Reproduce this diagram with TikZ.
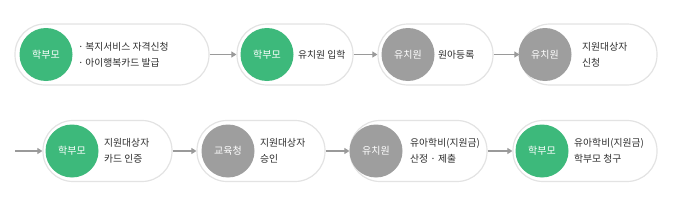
\documentclass[tikz,border=0pt]{standalone}
\usepackage{fontspec}
\setmainfont{Noto Sans CJK KR}
\usetikzlibrary{arrows.meta}
\definecolor{pgreen}{HTML}{3DB97B}
\definecolor{pgray}{HTML}{9E9E9E}
\definecolor{pline}{HTML}{E3E3E3}
\definecolor{parrow}{HTML}{9A9A9A}
\definecolor{ptext}{HTML}{2E2E2E}
\begin{document}
\begin{tikzpicture}[x=1pt,y=-1pt,
  pill/.style={draw=pline,line width=1.2pt,fill=white,rounded corners=30pt,minimum height=61pt,inner sep=0pt},
  dot/.style={circle,minimum size=53pt,inner sep=0pt,text=white,font=\fontsize{10}{11}\selectfont},
  green/.style={dot,fill=pgreen},
  grey/.style={dot,fill=pgray},
  lbl/.style={anchor=west,inner sep=0pt,text=ptext,align=left,font=\fontsize{9.8}{15.5}\selectfont},
  flow/.style={draw=parrow,line width=1.1pt,-{Triangle[length=5pt,width=6pt]}}]
\useasboundingbox (0,0) rectangle (678,206);
% row 1
\node[pill,minimum width=194pt] (p1) at (112,54.5) {};
\node[pill,minimum width=116pt] (p2) at (295,54.5) {};
\node[pill,minimum width=115pt] (p3) at (435.5,54.5) {};
\node[pill,minimum width=137pt] (p4) at (588.5,54.5) {};
% row 2
\node[pill,minimum width=129pt] (p5) at (107.5,151) {};
\node[pill,minimum width=128pt] (p6) at (261,151) {};
\node[pill,minimum width=137pt] (p7) at (418.5,151) {};
\node[pill,minimum width=144pt] (p8) at (585,151) {};
% circles
\node[green] (c1) at (46,54.5) {학부모};
\node[green] (c2) at (267,54.5) {학부모};
\node[grey] (c3) at (408,54.5) {유치원};
\node[grey] (c4) at (545,54.5) {유치원};
\node[green] (c5) at (72,151) {학부모};
\node[grey] (c6) at (228,151) {교육청};
\node[grey] (c7) at (376,151) {유치원};
\node[green] (c8) at (542,151) {학부모};
% labels
\node[lbl] (t1) at (78,55) {·\,복지서비스 자격신청\\·\,아이행복카드 발급};
\node[lbl] (t2) at (298,54.5) {유치원 입학};
\node[lbl] (t3) at (438,54.5) {원아등록};
\node[lbl] (t4) at (582,55) {지원대상자\\신청};
\node[lbl] (t5) at (104,151) {지원대상자\\카드 인증};
\node[lbl] (t6) at (260,151) {지원대상자\\승인};
\node[lbl] (t7) at (410,151) {유아학비(지원금)\\산정 · 제출};
\node[lbl] (t8) at (574,151) {유아학비(지원금)\\학부모 청구};
% connectors
\coordinate (s5) at (15,151);
\draw[flow] (p1.east) -- (p2.west);
\draw[flow] (p2.east) -- (p3.west);
\draw[flow] (p3.east) -- (p4.west);
\draw[flow] (s5) -- (p5.west);
\draw[flow] (p5.east) -- (p6.west);
\draw[flow] (p6.east) -- (p7.west);
\draw[flow] (p7.east) -- (p8.west);
\end{tikzpicture}
\end{document}
